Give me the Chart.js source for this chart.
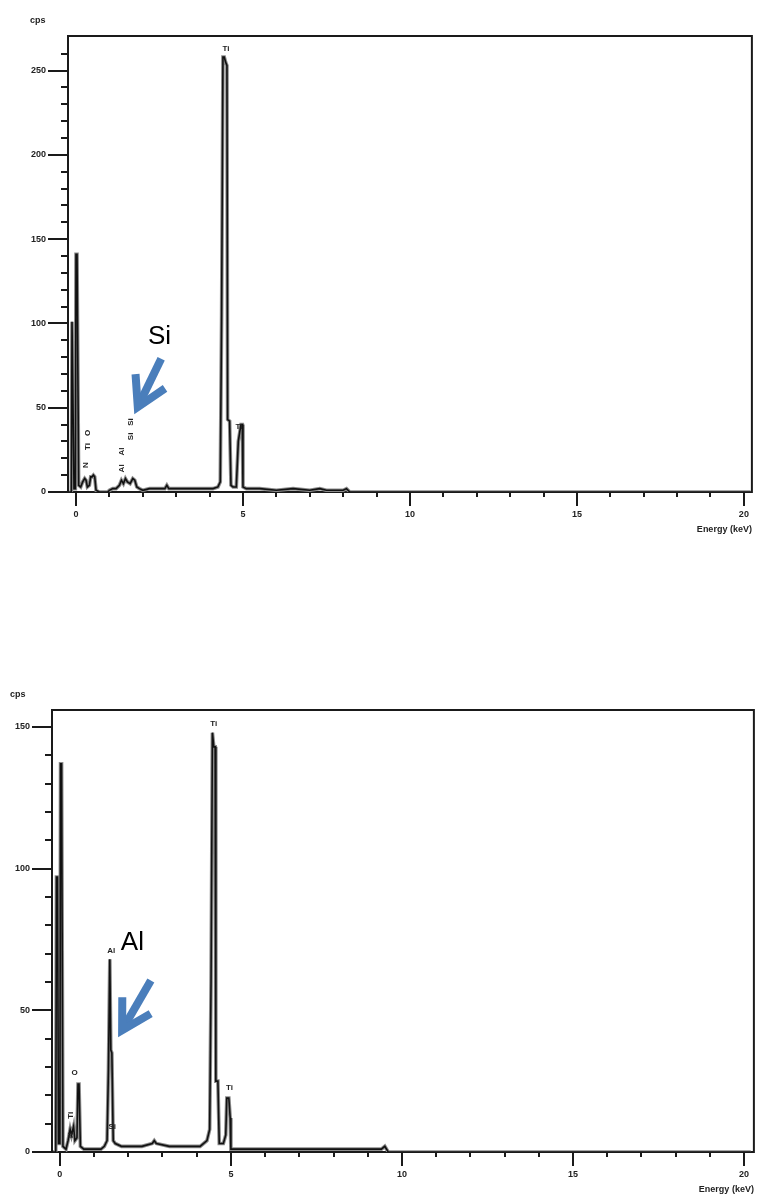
<!DOCTYPE html>
<html><head><meta charset="utf-8">
<script src="https://cdn.jsdelivr.net/npm/chart.js@4.4.1/dist/chart.umd.min.js"></script>
<style>
html,body{margin:0;padding:0;background:#fff;width:766px;height:1198px;overflow:hidden}
canvas{position:absolute;left:0}
</style></head><body>
<canvas id="c1" width="766" height="545" style="top:0"></canvas>
<canvas id="c2" width="766" height="548" style="top:650px"></canvas>
<script>
// ---------- DATA ----------
const topEnergy = [-0.20,-0.14,-0.12,-0.10,-0.06,-0.02,0.00,0.03,0.08,0.14,0.20,0.26,0.30,0.34,0.40,0.44,0.48,0.52,0.56,0.60,0.70,0.95,1.00,1.10,1.20,1.30,1.36,1.42,1.48,1.54,1.62,1.70,1.76,1.82,1.90,2.00,2.20,2.50,2.66,2.72,2.78,3.00,3.40,3.80,4.10,4.25,4.32,4.36,4.40,4.44,4.48,4.52,4.54,4.60,4.64,4.70,4.80,4.86,4.90,4.94,4.98,5.00,5.10,5.50,6.00,6.50,7.00,7.30,7.50,8.00,8.10,8.20,20.2];
const topCounts = [0,0,101,101,2,2,141,141,4,3,6,8,7,3,4,9,9,10,9,1,0,0,1,2,2,4,7,5,8,6,5,8,7,3,2,1,2,2,2,4,2,2,2,2,2,3,6,105,258,258,255,253,43,42,4,3,3,30,35,40,40,3,2,2,1,2,1,2,1,1,2,0,0];

const botEnergy = [-0.20,-0.12,-0.10,-0.07,-0.04,0.00,0.02,0.05,0.09,0.18,0.24,0.30,0.34,0.40,0.44,0.50,0.53,0.56,0.60,0.70,1.00,1.20,1.30,1.38,1.42,1.46,1.49,1.52,1.56,1.62,1.80,2.00,2.40,2.70,2.76,2.82,3.20,3.70,4.10,4.30,4.38,4.42,4.46,4.50,4.54,4.56,4.62,4.66,4.78,4.85,4.88,4.94,4.98,5.00,5.20,6.00,7.00,8.00,9.00,9.40,9.50,9.60,20.2];
const botCounts = [0,0,97,97,3,3,137,137,2,1,4,8,6,9,4,5,24,24,2,1,1,1,2,4,29,68,36,35,4,3,2,2,2,3,4,3,2,2,2,4,8,60,148,143,143,25,25,3,3,6,19,19,12,1,1,1,1,1,1,1,2,0,0];

const yTicksTop = [0,10,20,30,40,50,60,70,80,90,100,110,120,130,140,150,160,170,180,190,200,210,220,230,240,250,260];
const yTicksBot = [0,10,20,30,40,50,60,70,80,90,100,110,120,130,140,150];
const xTicks = [0,1,2,3,4,5,6,7,8,9,10,11,12,13,14,15,16,17,18,19,20];

// peak labels: [text, energy, cps, rotated]
const topPeakNames = ['Ti','Ti','O','Ti','N','Si','Si','Al','Al'];
const topPeakE     = [4.49,4.88,0.36,0.36,0.30,1.64,1.64,1.37,1.37];
const topPeakC     = [263,38.5,35,27,16,41.5,33,24,14];
const topPeakRot   = [false,false,true,true,true,true,true,true,true];

const botPeakNames = ['Ti','Ti','O','Ti','N','Al','Si'];
const botPeakE     = [4.50,4.96,0.43,0.33,0.33,1.50,1.53];
const botPeakC     = [151,22.5,28,13,6,71,9];
const botPeakRot   = [false,false,false,true,true,false,false];

// ---------- CHART ----------
const FONT = '"Liberation Sans", Arial, sans-serif';

function makePlugin(opt){
  return {
    id:'frame',
    beforeDatasetsDraw(chart){
      const {ctx, chartArea:a, scales:{x,y}} = chart;
      ctx.save();
      ctx.strokeStyle='#1a1a1a'; ctx.lineWidth=2;
      ctx.strokeRect(a.left, a.top, a.right-a.left, a.bottom-a.top);
      y.ticks.forEach(t=>{
        const py=Math.round(y.getPixelForValue(t.value));
        const major = t.value%50===0;
        ctx.beginPath(); ctx.moveTo(a.left,py); ctx.lineTo(a.left-(major?20:7),py); ctx.stroke();
      });
      x.ticks.forEach(t=>{
        const px=Math.round(x.getPixelForValue(t.value));
        const major = t.value%5===0;
        ctx.beginPath(); ctx.moveTo(px,a.bottom); ctx.lineTo(px,a.bottom+(major?14:5)); ctx.stroke();
      });
      ctx.restore();
    },
    afterDraw(chart){
      const {ctx, chartArea:a, scales:{x,y}} = chart;
      ctx.save();
      ctx.fillStyle='#222';
      ctx.font='bold 9px '+FONT;
      ctx.textAlign='left'; ctx.textBaseline='middle';
      ctx.fillText('cps', opt.cpsX, opt.cpsY);
      ctx.textAlign='right';
      ctx.fillText('Energy (keV)', a.right, a.bottom+38);
      // peak labels
      ctx.font='bold 8px '+FONT;
      opt.names.forEach((n,i)=>{
        const px=x.getPixelForValue(opt.e[i]), py=y.getPixelForValue(opt.c[i]);
        ctx.save(); ctx.translate(px,py);
        if(opt.rot[i]) ctx.rotate(-Math.PI/2);
        ctx.textAlign='center'; ctx.textBaseline='middle';
        ctx.fillText(n,0,0); ctx.restore();
      });
      // annotation arrow + element text
      const tx=x.getPixelForValue(opt.tailE), ty=y.getPixelForValue(opt.tailC);
      const hx=x.getPixelForValue(opt.tipE), hy=y.getPixelForValue(opt.tipC);
      ctx.strokeStyle='#4a7ebb'; ctx.lineWidth=8; ctx.lineCap='butt'; ctx.lineJoin='miter';
      const ang=Math.atan2(ty-hy, tx-hx);
      const L=33, sp=0.52;
      ctx.beginPath();
      ctx.moveTo(tx,ty); ctx.lineTo(hx+3*Math.cos(ang),hy+3*Math.sin(ang)); ctx.stroke();
      ctx.beginPath();
      ctx.moveTo(hx+L*Math.cos(ang-sp), hy+L*Math.sin(ang-sp));
      ctx.lineTo(hx,hy);
      ctx.lineTo(hx+L*Math.cos(ang+sp), hy+L*Math.sin(ang+sp));
      ctx.stroke();
      ctx.fillStyle='#000';
      ctx.font='26px '+FONT; ctx.textAlign='center'; ctx.textBaseline='middle';
      ctx.fillText(opt.label, x.getPixelForValue(opt.labE), y.getPixelForValue(opt.labC));
      ctx.restore();
    }
  };
}

function build(id, energy, counts, cfg){
  const pts = energy.map((e,i)=>({x:e,y:counts[i]}));
  new Chart(document.getElementById(id), {
    type:'line',
    data:{datasets:[
      {data:pts, borderColor:'#111', borderWidth:1.6, pointRadius:0, tension:0, fill:false, order:1},
      {data:pts, borderColor:'#8c8c8c', borderWidth:3.6, pointRadius:0, tension:0, fill:false, order:2}
    ]},
    options:{
      responsive:false, animation:false, events:[],
      layout:{autoPadding:false, padding:{left:0, top:cfg.padTop, right:cfg.padRight, bottom:0}},
      plugins:{legend:{display:false}, tooltip:{enabled:false}, frame:{}},
      scales:{
        x:{type:'linear', min:cfg.xmin, max:cfg.xmax,
           afterBuildTicks:s=>{s.ticks=xTicks.map(v=>({value:v}));},
           afterFit:s=>{s.height=cfg.xH;},
           grid:{display:false, drawTicks:false}, border:{display:false},
           ticks:{autoSkip:false, maxRotation:0, padding:17, color:'#222', font:{family:FONT,size:9,weight:'bold'},
                  callback:v=> v%5===0 ? String(v) : ''}},
        y:{type:'linear', min:0, max:cfg.ymax,
           afterBuildTicks:s=>{s.ticks=cfg.yTicks.map(v=>({value:v}));},
           afterFit:s=>{s.width=cfg.yW;},
           grid:{display:false, drawTicks:false}, border:{display:false},
           ticks:{autoSkip:false, padding:22, color:'#222', font:{family:FONT,size:9,weight:'bold'},
                  callback:v=> v%50===0 ? String(v) : ''}}
      }
    },
    plugins:[makePlugin(cfg.ann)]
  });
}

build('c1', topEnergy, topCounts, {
  padTop:36, padRight:10, xH:53, yW:68, xmin:-0.24, xmax:20.24, ymax:270.5, yTicks:yTicksTop,
  ann:{cpsX:30, cpsY:21, names:topPeakNames, e:topPeakE, c:topPeakC, rot:topPeakRot,
       tailE:2.55, tailC:79, tipE:1.85, tipC:50.4, label:'Si', labE:2.50, labC:92}
});
build('c2', botEnergy, botCounts, {
  padTop:60, padRight:2, xH:46, yW:52, xmin:-0.23, xmax:20.29, ymax:156, yTicks:yTicksBot,
  ann:{cpsX:10, cpsY:45, names:botPeakNames, e:botPeakE, c:botPeakC, rot:botPeakRot,
       tailE:2.66, tailC:60.5, tipE:1.82, tipC:43, label:'Al', labE:2.12, labC:74}
});
</script>
</body></html>
